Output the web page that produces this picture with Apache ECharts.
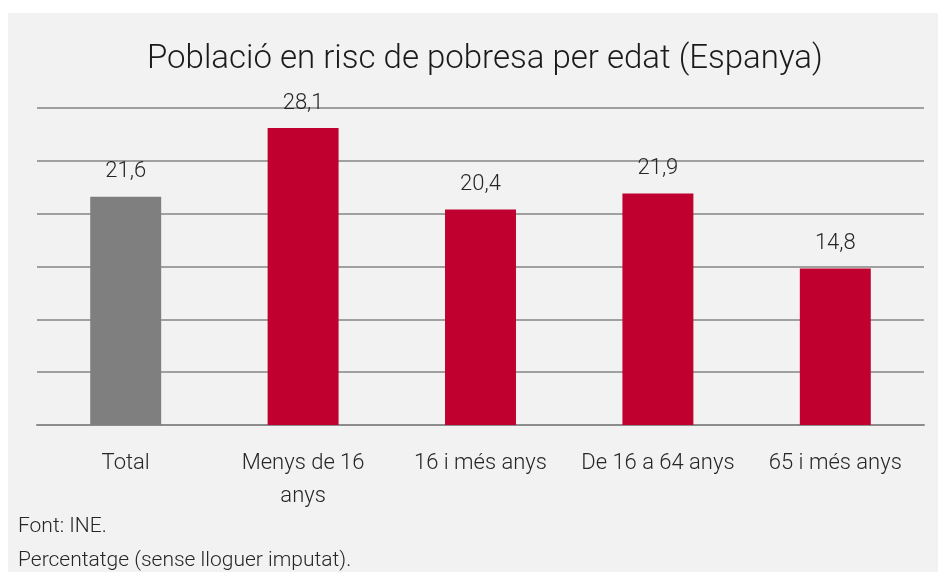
<!DOCTYPE html>
<html>
<head>
<meta charset="utf-8">
<script src="https://cdn.jsdelivr.net/npm/echarts@6/dist/echarts.min.js"></script>
<style>
  html, body { margin: 0; padding: 0; background: #fff; }
  #chart { width: 938px; height: 572px; }
</style>
</head>
<body>
<div id="chart"></div>
<script>
var categories = ["Total", "Menys de 16\nanys", "16 i més anys", "De 16 a 64 anys", "65 i més anys"]
var values = [21.6, 28.1, 20.4, 21.9, 14.8]
var barColors = ["#7f7f7f", "#c0002e", "#c0002e", "#c0002e", "#c0002e"]
var notes = ["Font: INE.", "Percentatge (sense lloguer imputat)."]

var font = "Roboto"
var chart = echarts.init(document.querySelector("#chart"))

var option = {
    backgroundColor: "#ffffff",
    animation: false,
    title: {
        text: "Població en risc de pobresa per edat (Espanya)",
        left: 142,
        top: 38,
        textStyle: {
            fontFamily: font,
            fontWeight: 300,
            fontSize: 33,
            color: "#1a1a1a",
        }
    },
    graphic: [
        {
            type: "rect",
            z: -10,
            shape: { x: 8, y: 13, width: 930, height: 559 },
            style: { fill: "#f2f2f2" }
        },
        {
            type: "text",
            left: 18,
            top: 516,
            style: { text: notes[0], font: "300 21px Roboto", fill: "#262626" }
        },
        {
            type: "text",
            left: 18,
            top: 550,
            style: { text: notes[1], font: "300 21px Roboto", fill: "#262626" }
        }
    ],
    grid: {
        left: 37,
        right: 14,
        top: 108,
        bottom: 147,
    },
    xAxis: {
        type: "category",
        data: categories,
        axisTick: { show: false },
        axisLine: { lineStyle: { color: "#8c8c8c", width: 2 } },
        axisLabel: {
            interval: 0,
            margin: 22,
            fontFamily: font,
            fontWeight: 300,
            fontSize: 22,
            lineHeight: 33,
            color: "#262626",
        }
    },
    yAxis: {
        type: "value",
        min: 0,
        max: 30,
        interval: 5,
        axisLabel: { show: false },
        axisLine: { show: false },
        axisTick: { show: false },
        splitLine: { lineStyle: { color: "#a0a0a0", width: 2 } },
    },
    series: [{
        type: "bar",
        barWidth: "40%",
        data: values.map((v, i) => ({
            value: v,
            itemStyle: { color: barColors[i] }
        })),
        label: {
            show: true,
            position: "top",
            distance: 14,
            fontFamily: font,
            fontWeight: 300,
            fontSize: 22,
            color: "#262626",
            formatter: (p) => String(p.value).replace(".", ","),
        }
    }]
}

chart.setOption(option)
</script>
</body>
</html>
